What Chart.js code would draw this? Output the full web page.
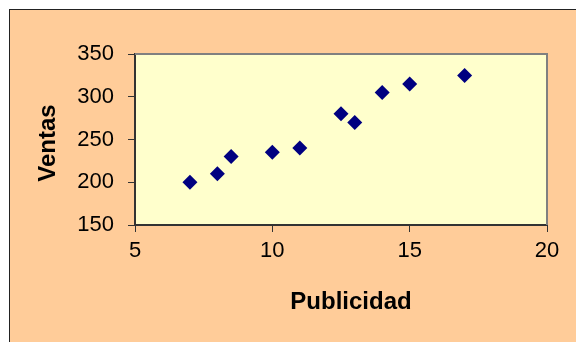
<!DOCTYPE html>
<html lang="es">
<head>
<meta charset="UTF-8">
<title>Ventas vs Publicidad</title>
<script src="https://cdn.jsdelivr.net/npm/chart.js"></script>
<style>
  html, body { margin: 0; padding: 0; background: #fff; }
  #wrap { width: 576px; height: 342px; }
</style>
</head>
<body>
<div id="wrap"><canvas id="chart" width="576" height="342"></canvas></div>
<script>
// datos
const publicidad = [7, 8, 8.5, 10, 11, 12.5, 13, 14, 15, 17];
const ventas = [200, 210, 230, 235, 240, 280, 270, 305, 315, 325];
const xTicks = [5, 10, 15, 20];
const yTicks = [150, 200, 250, 300, 350];
const xTitle = 'Publicidad';
const yTitle = 'Ventas';

const font = { family: '"Liberation Sans", Arial, sans-serif', size: 22 };

// fondo, marco y titulos al estilo Excel
const excelLook = {
  id: 'excelLook',
  beforeDraw(chart) {
    const { ctx, chartArea: a } = chart;
    ctx.save();
    ctx.fillStyle = '#FFCC99';
    ctx.fillRect(9, 9, chart.width, chart.height);
    ctx.strokeStyle = '#222';
    ctx.lineWidth = 1;
    ctx.strokeRect(9.5, 9.5, chart.width + 10, chart.height + 10);
    ctx.fillStyle = '#FFFFCC';
    ctx.fillRect(a.left, a.top, a.right - a.left, a.bottom - a.top);
    ctx.restore();
  },
  afterDraw(chart) {
    const { ctx, chartArea: a } = chart;
    ctx.save();
    ctx.strokeStyle = '#808080';
    ctx.lineWidth = 2;
    ctx.beginPath();
    ctx.moveTo(a.left, a.top);
    ctx.lineTo(a.right, a.top);
    ctx.lineTo(a.right, a.bottom);
    ctx.stroke();
    ctx.fillStyle = '#000';
    ctx.font = 'bold 24px "Liberation Sans", Arial, sans-serif';
    ctx.textAlign = 'center';
    ctx.textBaseline = 'middle';
    ctx.fillText(xTitle, 351, 302);
    ctx.translate(48, 143);
    ctx.rotate(-Math.PI / 2);
    ctx.fillText(yTitle, 0, 0);
    ctx.restore();
  }
};

new Chart(document.getElementById('chart'), {
  type: 'scatter',
  data: {
    datasets: [{
      data: publicidad.map((x, i) => ({ x, y: ventas[i] })),
      pointStyle: 'rectRot',
      pointRadius: 7.5,
      pointBackgroundColor: '#000080',
      pointBorderColor: '#000080',
      pointBorderWidth: 0
    }]
  },
  options: {
    responsive: false,
    animation: false,
    layout: { padding: { top: 54, right: 29, left: 0, bottom: 0 } },
    plugins: { legend: { display: false }, tooltip: { enabled: false } },
    scales: {
      x: {
        type: 'linear', min: 5, max: 20,
        afterBuildTicks: s => { s.ticks = xTicks.map(v => ({ value: v })); },
        afterFit: s => { s.height = 117; },
        grid: { drawOnChartArea: false, tickLength: 7, color: '#333' },
        border: { color: '#333', width: 2 },
        ticks: { font, color: '#000', padding: 6, maxRotation: 0 }
      },
      y: {
        type: 'linear', min: 150, max: 350,
        afterBuildTicks: s => { s.ticks = yTicks.map(v => ({ value: v })); },
        afterFit: s => { s.width = 135; },
        grid: { drawOnChartArea: false, tickLength: 7, color: '#333' },
        border: { color: '#333', width: 2 },
        ticks: { font, color: '#000', padding: 14 }
      }
    }
  },
  plugins: [excelLook]
});
</script>
</body>
</html>
